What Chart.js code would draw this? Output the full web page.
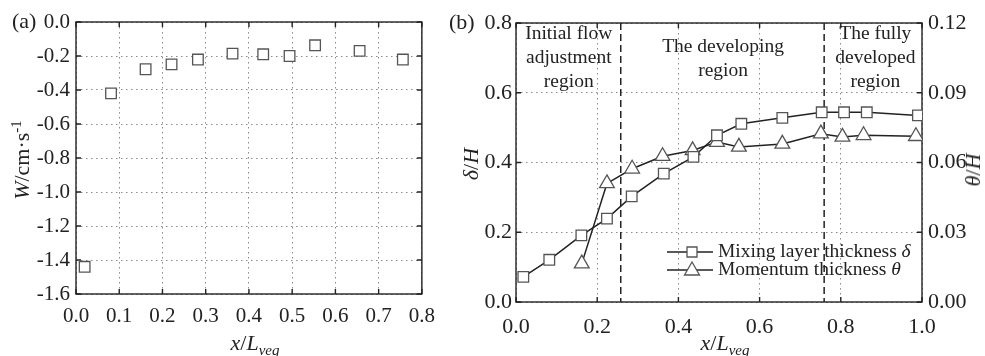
<!DOCTYPE html>
<html>
<head>
<meta charset="utf-8">
<script src="https://cdn.jsdelivr.net/npm/chart.js@4.4.1/dist/chart.umd.min.js"></script>
<style>
body { margin: 0; background: #fff; width: 985px; height: 356px; overflow: hidden; position: relative; font-family: "Liberation Serif", serif; color: #222; }
canvas { position: absolute; top: 0; }
#chartA { left: 0; }
#chartB { left: 440px; }
.lbl { position: absolute; font-size: 22px; line-height: 1; white-space: nowrap; }
.rot { transform: translate(-50%, -50%) rotate(-90deg); }
.ctr { transform: translateX(-50%); }
sub, sup { font-size: 15px; line-height: 0; }
</style>
</head>
<body>
<canvas id="chartA" width="445" height="356"></canvas>
<canvas id="chartB" width="545" height="356"></canvas>

<div class="lbl" style="left:12px;top:10px;">(a)</div>
<div class="lbl" style="left:449px;top:11px;">(b)</div>
<div class="lbl rot" style="left:22px;top:160px;"><i>W</i>/cm·s<sup>-1</sup></div>
<div class="lbl ctr" style="left:255px;top:332px;"><i>x</i>/<i>L</i><sub><i>veg</i></sub></div>
<div class="lbl rot" style="left:471px;top:164px;"><i>δ</i>/<i>H</i></div>
<div class="lbl rot" style="left:973px;top:170px;"><i>θ</i>/<i>H</i></div>
<div class="lbl ctr" style="left:725px;top:332px;"><i>x</i>/<i>L</i><sub><i>veg</i></sub></div>

<script>
// panel (a): vertical velocity W
const wX = [0.02, 0.081, 0.161, 0.221, 0.282, 0.362, 0.433, 0.494, 0.553, 0.656, 0.756];
const wY = [-1.44, -0.42, -0.278, -0.249, -0.221, -0.186, -0.19, -0.2, -0.137, -0.17, -0.221];

// panel (b): mixing layer thickness and momentum thickness
const deltaX = [0.018, 0.082, 0.161, 0.224, 0.285, 0.364, 0.437, 0.495, 0.555, 0.656, 0.753, 0.808, 0.864, 0.99];
const deltaY = [0.072, 0.121, 0.191, 0.239, 0.303, 0.368, 0.416, 0.478, 0.511, 0.528, 0.544, 0.544, 0.544, 0.535];
const thetaX = [0.162, 0.224, 0.286, 0.361, 0.435, 0.495, 0.549, 0.656, 0.751, 0.804, 0.856, 0.985];
const thetaY = [0.0165, 0.051, 0.0573, 0.0627, 0.0652, 0.0688, 0.0667, 0.068, 0.0724, 0.071, 0.0717, 0.0713];

const regionBounds = [0.258, 0.759];
const regionLabels = [
    { x: 0.13, lines: ["Initial flow", "adjustment", "region"] },
    { x: 0.51, lines: ["The developing", "region"], offset: 13 },
    { x: 0.885, lines: ["The fully", "developed", "region"] }
];
const legendLabels = [["Mixing layer thickness ", "δ"], ["Momentum thickness ", "θ"]];

const ink = "#222";
const markerColor = "#555";
const tickFont = (size) => ({ family: "Liberation Serif", size });

const toPoints = (xs, ys) => xs.map((x, i) => ({ x, y: ys[i] }));

function drawFrame(chart, tickLen) {
    const { ctx, chartArea: a, scales } = chart;
    ctx.save();
    ctx.setLineDash([]);
    ctx.strokeStyle = ink;
    ctx.lineWidth = 1.4;
    ctx.strokeRect(a.left, a.top, a.right - a.left, a.bottom - a.top);
    ctx.beginPath();
    scales.x.ticks.forEach((t) => {
        const px = scales.x.getPixelForValue(t.value);
        ctx.moveTo(px, a.bottom); ctx.lineTo(px, a.bottom - tickLen);
        ctx.moveTo(px, a.top); ctx.lineTo(px, a.top + tickLen);
    });
    scales.y.ticks.forEach((t) => {
        const py = scales.y.getPixelForValue(t.value);
        ctx.moveTo(a.left, py); ctx.lineTo(a.left + tickLen, py);
    });
    const right = scales.y1 || scales.y;
    right.ticks.forEach((t) => {
        const py = right.getPixelForValue(t.value);
        ctx.moveTo(a.right, py); ctx.lineTo(a.right - tickLen, py);
    });
    ctx.stroke();
    ctx.restore();
}

const framePlugin = {
    id: "frame",
    beforeDatasetsDraw(chart) {
        drawFrame(chart, 5);
    }
};

const gridOpts = { color: "#8a8a8a", lineWidth: 1, drawTicks: false };
const dotted = { display: false, dash: [1.5, 3.5] };

new Chart(document.getElementById("chartA"), {
    type: "scatter",
    data: {
        datasets: [{
            data: toPoints(wX, wY),
            pointStyle: "rect",
            pointRadius: 7.5,
            backgroundColor: "#fff",
            borderColor: markerColor,
            borderWidth: 1.3
        }]
    },
    options: {
        responsive: false,
        animation: false,
        devicePixelRatio: 1,
        layout: { padding: { top: 22, right: 17, left: 0, bottom: 0 } },
        plugins: { legend: { display: false }, tooltip: { enabled: false } },
        scales: {
            x: {
                type: "linear",
                min: 0, max: 0.8,
                grid: gridOpts,
                border: dotted,
                afterFit: (s) => { s.height = 62; },
                ticks: { stepSize: 0.1, padding: 10, color: ink, font: tickFont(21), callback: (v) => v.toFixed(1) }
            },
            y: {
                min: -1.6, max: 0,
                grid: gridOpts,
                border: dotted,
                afterFit: (s) => { s.width = 76; },
                ticks: { stepSize: 0.2, padding: 6, color: ink, font: tickFont(21), callback: (v) => v.toFixed(1) }
            }
        }
    },
    plugins: [framePlugin]
});

const regionPlugin = {
    id: "regions",
    beforeDatasetsDraw(chart) {
        const { ctx, chartArea: a, scales } = chart;
        ctx.save();
        ctx.strokeStyle = ink;
        ctx.lineWidth = 1.5;
        ctx.setLineDash([7, 4]);
        ctx.beginPath();
        regionBounds.forEach((b) => {
            const px = scales.x.getPixelForValue(b);
            ctx.moveTo(px, a.top); ctx.lineTo(px, a.bottom);
        });
        ctx.stroke();
        ctx.setLineDash([]);
        ctx.fillStyle = ink;
        ctx.font = "19.5px 'Liberation Serif'";
        ctx.textAlign = "center";
        ctx.textBaseline = "middle";
        regionLabels.forEach((r) => {
            const px = scales.x.getPixelForValue(r.x);
            r.lines.forEach((line, i) => {
                ctx.fillText(line, px, a.top + 11 + (r.offset || 0) + i * 24);
            });
        });
        ctx.restore();
    },
    afterDatasetsDraw(chart) {
        const { ctx } = chart;
        const styles = ["rect", "triangle"];
        ctx.save();
        ctx.textBaseline = "middle";
        ctx.textAlign = "left";
        legendLabels.forEach(([text, sym], i) => {
            const y = 252 + i * 18;
            const x0 = 227, x1 = 273, cx = 252;
            ctx.strokeStyle = ink;
            ctx.lineWidth = 1.5;
            ctx.beginPath();
            ctx.moveTo(x0, y); ctx.lineTo(x1, y);
            ctx.stroke();
            ctx.fillStyle = "#fff";
            ctx.strokeStyle = markerColor;
            ctx.lineWidth = 1.3;
            ctx.beginPath();
            if (styles[i] === "rect") {
                ctx.rect(cx - 5, y - 5, 10, 10);
            } else {
                ctx.moveTo(cx, y - 8);
                ctx.lineTo(cx + 7.5, y + 5);
                ctx.lineTo(cx - 7.5, y + 5);
                ctx.closePath();
            }
            ctx.fill();
            ctx.stroke();
            ctx.fillStyle = ink;
            ctx.font = "19.5px 'Liberation Serif'";
            ctx.fillText(text, 278, y);
            const w = ctx.measureText(text).width;
            ctx.font = "italic 19.5px 'Liberation Serif'";
            ctx.fillText(sym, 278 + w, y);
        });
        ctx.restore();
    }
};

new Chart(document.getElementById("chartB"), {
    type: "line",
    data: {
        datasets: [
            {
                data: toPoints(deltaX, deltaY),
                yAxisID: "y",
                borderColor: ink,
                borderWidth: 1.5,
                pointStyle: "rect",
                pointRadius: 7.5,
                pointBackgroundColor: "#fff",
                pointBorderColor: markerColor,
                pointBorderWidth: 1.3,
                tension: 0
            },
            {
                data: toPoints(thetaX, thetaY),
                yAxisID: "y1",
                borderColor: ink,
                borderWidth: 1.5,
                pointStyle: "triangle",
                pointRadius: 8.5,
                pointBackgroundColor: "#fff",
                pointBorderColor: markerColor,
                pointBorderWidth: 1.3,
                tension: 0
            }
        ]
    },
    options: {
        responsive: false,
        animation: false,
        devicePixelRatio: 1,
        layout: { padding: { top: 23, right: 0, left: 0, bottom: 0 } },
        plugins: { legend: { display: false }, tooltip: { enabled: false } },
        scales: {
            x: {
                type: "linear",
                min: 0, max: 1,
                grid: gridOpts,
                border: dotted,
                afterFit: (s) => { s.height = 54; },
                ticks: { stepSize: 0.2, padding: 12, color: ink, font: tickFont(22), callback: (v) => v.toFixed(1) }
            },
            y: {
                position: "left",
                min: 0, max: 0.8,
                grid: gridOpts,
                border: dotted,
                afterFit: (s) => { s.width = 76; },
                ticks: { stepSize: 0.2, padding: 4, color: ink, font: tickFont(22), callback: (v) => v.toFixed(1) }
            },
            y1: {
                position: "right",
                min: 0, max: 0.12,
                grid: { display: false, drawTicks: false },
                border: { display: false },
                afterFit: (s) => { s.width = 63; },
                ticks: { stepSize: 0.03, padding: 6, color: ink, font: tickFont(22), callback: (v) => v.toFixed(2) }
            }
        }
    },
    plugins: [framePlugin, regionPlugin]
});
</script>
</body>
</html>
